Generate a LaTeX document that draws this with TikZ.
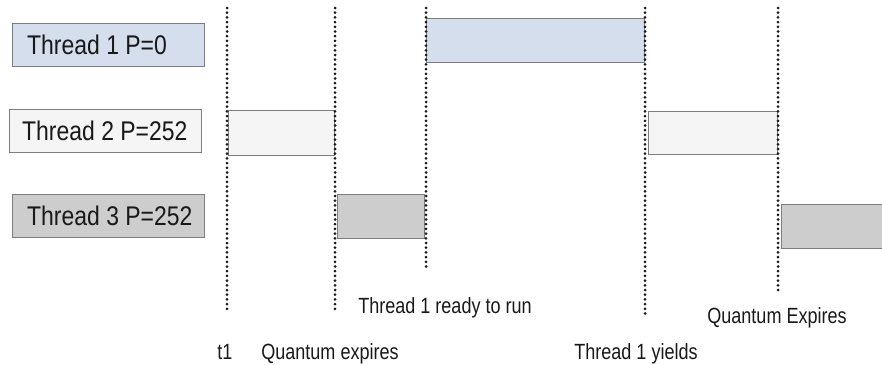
\documentclass[tikz,border=0pt]{standalone}
\usepackage{fontspec}
\setmainfont{Liberation Sans}
\newfontfamily\lblfont[FakeStretch=0.85]{Liberation Sans}
\newfontfamily\notefont[FakeStretch=0.82]{Liberation Sans}
\definecolor{hiblue}{RGB}{213,222,236}
\definecolor{lowwhite}{RGB}{245,245,245}
\definecolor{lowgray}{RGB}{205,205,205}
\definecolor{edgegray}{RGB}{125,125,125}
\definecolor{inkdark}{RGB}{25,25,25}
\tikzset{
  label box/.style={draw=edgegray, line width=1.4pt, anchor=north west,
    minimum width=192pt, minimum height=43pt, inner sep=0pt},
  label text/.style={anchor=west, inner sep=0pt, text=inkdark,
    font=\lblfont\fontsize{27}{31}\selectfont},
  run bar/.style={draw=edgegray, line width=1.4pt, anchor=north west,
    inner sep=0pt},
  marker/.style={line width=3pt, dash pattern=on 0pt off 4.7pt,
    line cap=round, color=inkdark},
  note/.style={anchor=base, inner sep=0pt, text=inkdark,
    font=\notefont\fontsize{22}{26}\selectfont}
}
\begin{document}
\begin{tikzpicture}[x=1pt, y=-1pt]
  \useasboundingbox (0,0) rectangle (882,364);
  \clip (0,0) rectangle (882,364);

  % thread labels
  \node[label box, fill=hiblue]   (lab1) at (12,23)  {};
  \node[label box, fill=lowwhite] (lab2) at (9,109)  {};
  \node[label box, fill=lowgray]  (lab3) at (12,194) {};
  \node[label text] (lab1txt) at ([xshift=15pt]lab1.west) {Thread 1 P=0};
  \node[label text] (lab2txt) at ([xshift=13pt]lab2.west) {Thread 2 P=252};
  \node[label text] (lab3txt) at ([xshift=15pt]lab3.west) {Thread 3 P=252};

  % execution slices
  \node[run bar, fill=hiblue,   minimum width=218pt, minimum height=44pt] (run1)  at (426,18)  {};
  \node[run bar, fill=lowwhite, minimum width=106pt, minimum height=45pt] (run2a) at (228,110) {};
  \node[run bar, fill=lowwhite, minimum width=129pt, minimum height=43pt] (run2b) at (648,111) {};
  \node[run bar, fill=lowgray,  minimum width=87pt,  minimum height=44pt] (run3a) at (337,194) {};
  \node[run bar, fill=lowgray,  minimum width=120pt, minimum height=44pt] (run3b) at (781,204) {};

  % time markers
  \coordinate (m1t) at (227,8);   \coordinate (m1b) at (227,313);
  \coordinate (m2t) at (335,8);   \coordinate (m2b) at (335,313);
  \coordinate (m3t) at (426,8);   \coordinate (m3b) at (426,271);
  \coordinate (m4t) at (645,8);   \coordinate (m4b) at (645,314);
  \coordinate (m5t) at (778,8);   \coordinate (m5b) at (778,293);
  \draw[marker] (m1t) -- (m1b);
  \draw[marker] (m2t) -- (m2b);
  \draw[marker] (m3t) -- (m3b);
  \draw[marker] (m4t) -- (m4b);
  \draw[marker] (m5t) -- (m5b);

  % event captions
  \node[note] (ready)   at (445,313) {Thread 1 ready to run};
  \node[note] (qexp2)   at (777,323) {Quantum Expires};
  \node[note] (t1)      at (225,359) {t1};
  \node[note] (qexp1)   at (330,359) {Quantum expires};
  \node[note] (yields)  at (636,359) {Thread 1 yields};
\end{tikzpicture}
\end{document}
